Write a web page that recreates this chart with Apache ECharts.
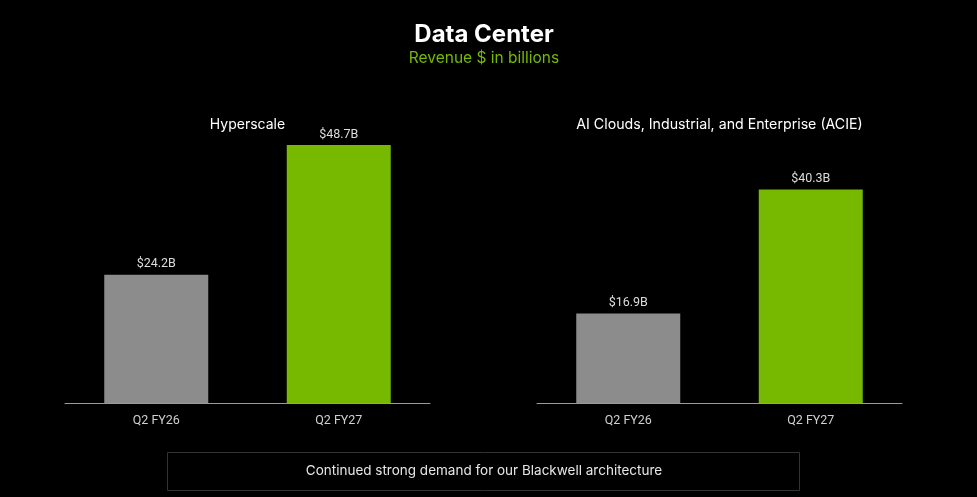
<!DOCTYPE html>
<html>
<head>
<meta charset="utf-8">
<title>Data Center</title>
<script src="https://cdn.jsdelivr.net/npm/echarts@6/dist/echarts.min.js"></script>
<style>
  html, body { margin: 0; padding: 0; background: #000; }
  #chart { width: 977px; height: 497px; }
</style>
</head>
<body>
<div id="chart"></div>
<script>
// values, $ billions
const categories = ['Q2 FY26', 'Q2 FY27'];
const hyperscaleValues = [24.2, 48.7];
const acieValues = [16.9, 40.3];
const panelTitles = ['Hyperscale', 'AI Clouds, Industrial, and Enterprise (ACIE)'];

const FONT = 'Roboto, "Noto Sans", sans-serif';
const HEAD_FONT = 'Inter, Roboto, sans-serif';
const GRAY = '#8c8c8c';
const GREEN = '#76b900';

const chart = echarts.init(document.getElementById('chart'), null, { renderer: 'canvas' });

function xAxis(gridIndex) {
  return {
    type: 'category',
    gridIndex,
    data: categories,
    axisLine: { lineStyle: { color: '#9a9a9a', width: 1 } },
    axisTick: { show: false },
    axisLabel: { color: '#d0d0d0', fontFamily: FONT, fontSize: 12.5, margin: 11 }
  };
}

function yAxis(gridIndex) {
  return {
    type: 'value',
    gridIndex,
    min: 0,
    max: 60,
    show: false,
    splitLine: { show: false }
  };
}

function barSeries(index, values) {
  return {
    type: 'bar',
    xAxisIndex: index,
    yAxisIndex: index,
    data: values,
    barWidth: 104,
    itemStyle: {
      color: (p) => (p.dataIndex === 0 ? GRAY : GREEN)
    },
    label: {
      show: true,
      position: 'top',
      distance: 4,
      color: '#dcdcdc',
      fontFamily: FONT,
      fontSize: 12.5,
      formatter: (p) => '$' + p.value.toFixed(1) + 'B'
    },
    silent: true,
    animation: false
  };
}

chart.setOption({
  backgroundColor: '#000',
  animation: false,
  grid: [
    { left: 65, top: 85, width: 365, height: 318 },
    { left: 537, top: 85, width: 365, height: 318 }
  ],
  xAxis: [xAxis(0), xAxis(1)],
  yAxis: [yAxis(0), yAxis(1)],
  series: [barSeries(0, hyperscaleValues), barSeries(1, acieValues)],
  graphic: [
    {
      type: 'text', x: 484, y: 35,
      style: { text: 'Data Center', fill: '#fff', font: 'bold 24px ' + HEAD_FONT, textAlign: 'center', textVerticalAlign: 'middle' }
    },
    {
      type: 'text', x: 484, y: 58,
      style: { text: 'Revenue $ in billions', fill: GREEN, font: '15.5px ' + HEAD_FONT, textAlign: 'center', textVerticalAlign: 'middle' }
    },
    {
      type: 'text', x: 247.5, y: 125,
      style: { text: panelTitles[0], fill: '#fff', font: '14px ' + HEAD_FONT, textAlign: 'center', textVerticalAlign: 'middle' }
    },
    {
      type: 'text', x: 719.5, y: 125,
      style: { text: panelTitles[1], fill: '#fff', font: '14.2px ' + HEAD_FONT, textAlign: 'center', textVerticalAlign: 'middle' }
    },
    {
      type: 'rect',
      shape: { x: 167.5, y: 452.5, width: 632, height: 38 },
      style: { fill: '#000', stroke: '#333', lineWidth: 1 }
    },
    {
      type: 'text', x: 484, y: 471,
      style: { text: 'Continued strong demand for our Blackwell architecture', fill: '#e6e6e6', font: '13.5px ' + HEAD_FONT, textAlign: 'center', textVerticalAlign: 'middle' }
    }
  ]
});
</script>
</body>
</html>
